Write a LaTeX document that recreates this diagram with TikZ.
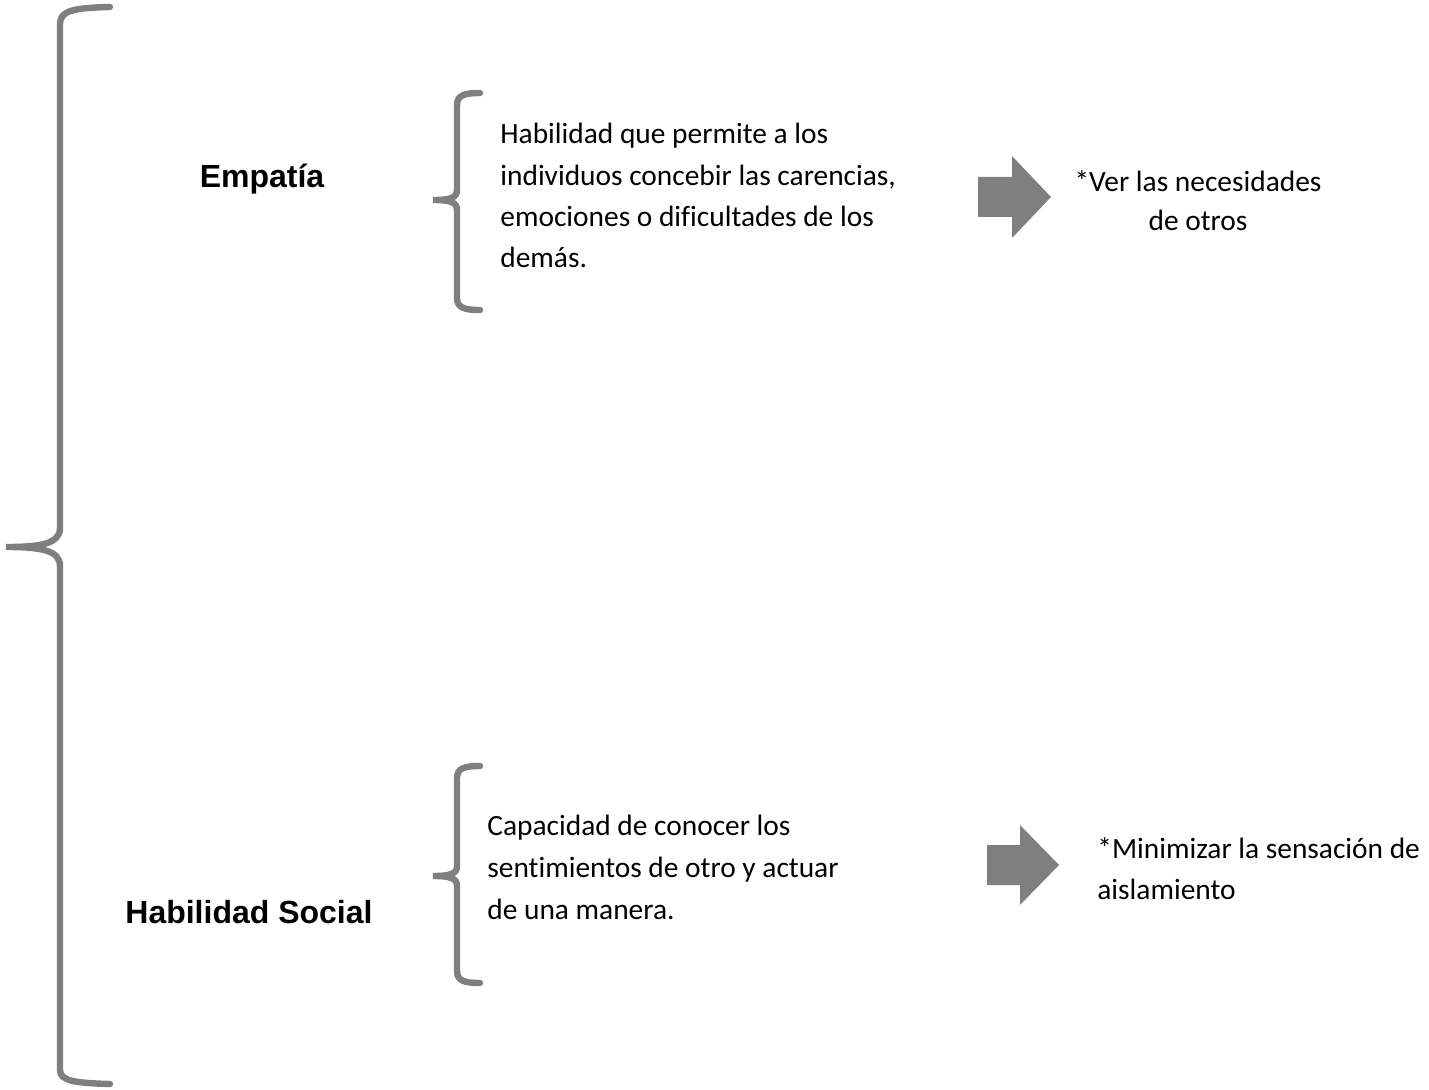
\documentclass[tikz,border=0pt]{standalone}
\usepackage{fontspec}
\setmainfont{Carlito}[Ligatures=CommonOff]
\newfontfamily\headfont{Liberation Sans}
\definecolor{bracegray}{HTML}{7F7F7F}
\tikzset{
	bracestyle/.style={draw=bracegray, line width=3.2pt, line cap=round},
	arrowstyle/.style={fill=bracegray},
	headtext/.style={font=\headfont\bfseries\fontsize{16}{19}\selectfont, inner sep=0pt},
	bodytext/.style={font=\fontsize{14.7}{20.7}\selectfont, align=left, inner sep=0pt},
}
\begin{document}
\begin{tikzpicture}[x=0.5pt,y=-0.5pt]
				\useasboundingbox (0,0) rectangle (1429,1090);
				% big brace
				\draw[bracestyle]
					(110,7) .. controls (75,8) and (60,10) .. (60,24) --
					(60,528) .. controls (60,544) and (40,547) .. (6,547)
					.. controls (40,547) and (60,550) .. (60,566) --
					(60,1070) .. controls (60,1081) and (75,1083) .. (110,1084);
				\node[headtext, anchor=base] (empatia) at (262,188) {Empatía};
				\node[headtext, anchor=base west] (social) at (125,923) {Habilidad Social};
				% small braces
				\foreach \ytop/\ytip/\ybot in {93/200/310, 766/876/983} {
					\draw[bracestyle]
						(480,\ytop) .. controls (465,\ytop) and (457,\ytop+2) .. (457,\ytop+12) --
						(457,\ytip-10) .. controls (457,\ytip-2) and (450,\ytip) .. (433,\ytip)
						.. controls (450,\ytip) and (457,\ytip+2) .. (457,\ytip+10) --
						(457,\ybot-12) .. controls (457,\ybot-2) and (465,\ybot) .. (480,\ybot);
				}
				% base = last line
				\node[bodytext, anchor=base west] (empdef) at (500,268)
					{Habilidad que permite a los\\individuos concebir las carencias,\\emociones o dificultades de los\\demás.};
				\node[bodytext, font=\fontsize{14.7}{21}\selectfont, anchor=base west] (socdef) at (487,919)
					{Capacidad de conocer los\\sentimientos de otro y actuar\\de una manera.};
				% arrows
				\fill[arrowstyle] (978,177) -- (1012,177) -- (1012,156) -- (1051,197) --
					(1012,238) -- (1012,217) -- (978,217) -- cycle;
				\fill[arrowstyle] (987,845) -- (1020,845) -- (1020,825) -- (1059,865) --
					(1020,905) -- (1020,885) -- (987,885) -- cycle;
				\node[bodytext, align=center, font=\fontsize{14.7}{19.5}\selectfont, anchor=base] (empres) at (1198,231)
					{*Ver las necesidades\\de otros};
				\node[bodytext, font=\fontsize{14.7}{20.5}\selectfont, anchor=base west] (socres) at (1097,899)
					{*Minimizar la sensación de\\aislamiento};
			\end{tikzpicture}
\end{document}
